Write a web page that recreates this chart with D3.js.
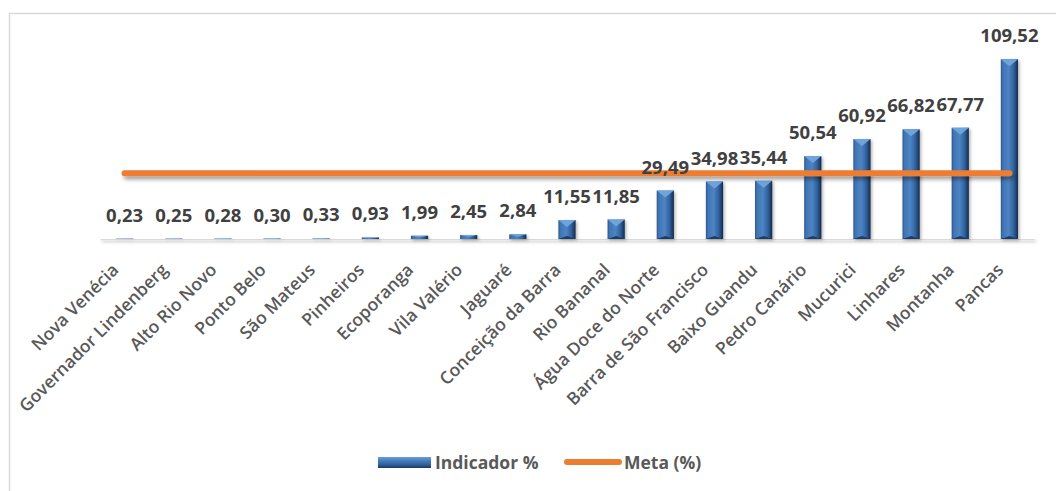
<!DOCTYPE html>
<html><head><meta charset="utf-8">
<script src="https://cdn.jsdelivr.net/npm/d3@7/dist/d3.min.js"></script>
<style>html,body{margin:0;padding:0;background:#fff;}svg{display:block;}</style>
</head><body>
<svg id="chart" width="1056" height="491"></svg>
<script>
const categories = ["Nova Venécia","Governador Lindenberg","Alto Rio Novo","Ponto Belo","São Mateus","Pinheiros","Ecoporanga","Vila Valério","Jaguaré","Conceição da Barra","Rio Bananal","Água Doce do Norte","Barra de São Francisco","Baixo Guandu","Pedro Canário","Mucurici","Linhares","Montanha","Pancas"];
const indicador = [0.23,0.25,0.28,0.30,0.33,0.93,1.99,2.45,2.84,11.55,11.85,29.49,34.98,35.44,50.54,60.92,66.82,67.77,109.52];
const meta = [40,40,40,40,40,40,40,40,40,40,40,40,40,40,40,40,40,40,40];
const yDomain = [0, 120];
const seriesNames = ["Indicador %", "Meta (%)"];

const svg = d3.select("#chart");
const base = 239;

const defs = svg.append("defs");
const g1 = defs.append("linearGradient").attr("id","barGrad").attr("x1","0").attr("x2","1").attr("y1","0").attr("y2","0");
[[0,"#2c5689"],[0.12,"#4075b4"],[0.45,"#4d84c4"],[0.75,"#31629d"],[1,"#132b4a"]].forEach(s=>g1.append("stop").attr("offset",s[0]).attr("stop-color",s[1]));
const g2 = defs.append("linearGradient").attr("id","legGrad").attr("x1","0").attr("x2","0").attr("y1","0").attr("y2","1");
[[0,"#6a9fd8"],[0.3,"#4a80c0"],[0.7,"#2f5f99"],[1,"#1b3a63"]].forEach(s=>g2.append("stop").attr("offset",s[0]).attr("stop-color",s[1]));
const sh = defs.append("filter").attr("id","shadow").attr("filterUnits","userSpaceOnUse")
  .attr("x",0).attr("y",0).attr("width",1056).attr("height",491);
sh.append("feDropShadow").attr("dx",2).attr("dy",3).attr("stdDeviation",2).attr("flood-color","#000").attr("flood-opacity",0.4);
const shb = defs.append("filter").attr("id","bshadow").attr("filterUnits","userSpaceOnUse")
  .attr("x",0).attr("y",0).attr("width",1056).attr("height",491);
shb.append("feDropShadow").attr("dx",1.5).attr("dy",1.5).attr("stdDeviation",1.5).attr("flood-color","#000").attr("flood-opacity",0.3);

// outer border
svg.append("rect").attr("x",9.5).attr("y",13.5).attr("width",1100).attr("height",600)
  .attr("fill","#fff").attr("stroke","#d9d9d9").attr("stroke-width",1.5);

const x = d3.scaleBand().domain(categories).range([100, 1034]).paddingInner(0.65).paddingOuter(0.325);
const y = d3.scaleLinear().domain(yDomain).range([base, 42]);

// baseline axis
svg.append("g").attr("transform",`translate(0,${base})`)
  .call(d3.axisBottom(x).tickSize(0).tickFormat(""))
  .call(g=>g.select(".domain").attr("stroke","#d9d9d9").attr("stroke-width",1.5).attr("filter","url(#bshadow)"));

const fmt = v => d3.format(".2f")(v).replace(".", ",");

// bars
const bars = svg.append("g");
categories.forEach((c,i)=>{
  const bx = x(c), bw = x.bandwidth(), top = y(indicador[i]), h = base - top;
  bars.append("rect").attr("x",bx).attr("y",top).attr("width",bw).attr("height",h)
    .attr("fill","url(#barGrad)").attr("filter","url(#bshadow)");
  const th = Math.min(7, h/2);
  bars.append("path").attr("d",`M${bx},${top}L${bx+bw},${top}L${bx+bw/2},${top+th}Z`).attr("fill","#6fa3db");
  if (h > 10) {
    bars.append("path").attr("d",`M${bx},${base}L${bx+bw},${base}L${bx+bw/2},${base-3}Z`).attr("fill","#1d3d66");
  }
});

// meta line
const line = d3.line().x((d,i)=>x(categories[i]) + x.bandwidth()/2).y(d=>y(d));
svg.append("path").datum(meta).attr("d",line).attr("fill","none")
  .attr("stroke","#ed7d31").attr("stroke-width",6).attr("stroke-linecap","round").attr("filter","url(#shadow)");

// data labels
svg.append("g").selectAll("text").data(indicador).join("text")
  .attr("x",(d,i)=>x(categories[i]) + x.bandwidth()/2)
  .attr("y",d=>y(d) - 17)
  .attr("text-anchor","middle")
  .attr("font-family","'Open Sans', sans-serif").attr("font-weight",700).attr("font-size",18.5)
  .attr("fill","#404040").text(fmt);

// category labels
svg.append("g").selectAll("text").data(categories).join("text")
  .attr("transform",c=>`translate(${x(c)+x.bandwidth()/2-5},${base+32}) rotate(-45)`)
  .attr("text-anchor","end")
  .attr("font-family","'Open Sans', sans-serif").attr("font-weight",600).attr("font-size",17.5)
  .attr("fill","#595959").text(c=>c);

// legend
const leg = svg.append("g");
leg.append("rect").attr("x",378).attr("y",457).attr("width",53).attr("height",11).attr("fill","url(#legGrad)");
leg.append("text").attr("x",435).attr("y",468.5).text(seriesNames[0])
  .attr("font-family","'Open Sans', sans-serif").attr("font-weight",700).attr("font-size",17.5).attr("fill","#595959");
leg.append("line").attr("x1",567).attr("x2",619).attr("y1",462).attr("y2",462)
  .attr("stroke","#ed7d31").attr("stroke-width",6).attr("stroke-linecap","round");
leg.append("text").attr("x",624).attr("y",468.5).text(seriesNames[1])
  .attr("font-family","'Open Sans', sans-serif").attr("font-weight",700).attr("font-size",17.5).attr("fill","#595959");
</script>
</body></html>
